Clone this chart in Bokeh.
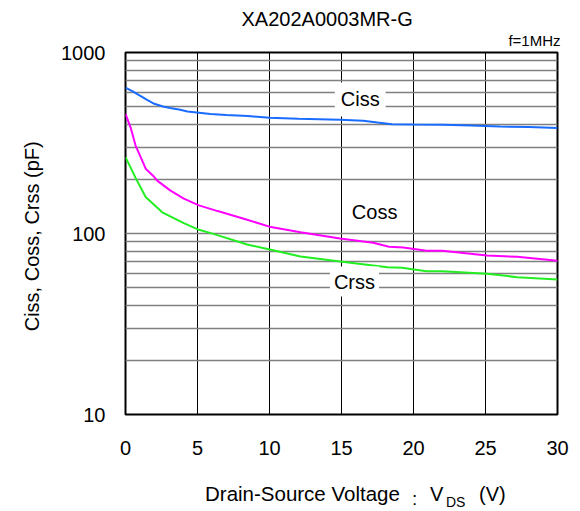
from bokeh.plotting import figure
from bokeh.models import FixedTicker, NumeralTickFormatter, Label, Title, Div
from bokeh.layouts import column
from bokeh.embed import file_html
from bokeh.resources import INLINE

# ---- data ----
title_text = "XA202A0003MR-G"
note_text = "f=1MHz"
xlabel_main = "Drain-Source Voltage"
xlabel_sep = ":"
xlabel_sym = "V"
xlabel_sub = "DS"
xlabel_unit = "(V)"
ylabel_text = "Ciss, Coss, Crss  (pF)"
x_ticks = [0, 5, 10, 15, 20, 25, 30]
y_ticks = [10, 100, 1000]
y_minor = [20, 30, 40, 50, 60, 70, 80, 90, 200, 300, 400, 500, 600, 700, 800, 900]

ciss_v = [0, 0.5, 1, 1.5, 2, 2.6, 3.1, 3.8, 4.3, 5.1, 5.9, 7, 8.5, 10, 12, 14.9, 16.5, 17.5, 18.5, 20, 22, 24, 26, 28, 30]
ciss_c = [640, 610, 578, 548, 521, 503, 494, 483, 472, 465, 458, 452, 446, 436, 430, 425, 420, 410, 402, 400, 399, 395, 390, 388, 383]

coss_v = [0, 0.35, 0.7, 1.16, 1.4, 2.0, 2.2, 3.1, 4.05, 5.1, 6.4, 8.45, 10.1, 12.15, 14.9, 17.2, 18.3, 19.3, 20.9, 22.0, 25.1, 27.2, 30]
coss_c = [458, 386, 306, 253, 228, 205, 196, 173, 156, 143, 133, 119, 108.5, 101.6, 93.8, 88.8, 84.4, 83.8, 80.2, 80.2, 75.6, 74.3, 70.6]

crss_v = [0, 0.35, 0.7, 1.4, 2.55, 4.05, 5.1, 6.1, 8.45, 10.1, 12.15, 14.9, 18.2, 19.2, 20.9, 22.0, 25.1, 27.2, 30]
crss_c = [264, 232, 203, 159, 131, 114, 104.8, 99.5, 86.9, 81.3, 74.6, 70, 65.1, 64.6, 61.9, 61.9, 59.9, 57.4, 55.7]

FONT = "Liberation Sans"

p = figure(width=580, height=470, x_range=(0, 30), y_range=(10, 1000),
           y_axis_type="log", output_backend="svg", toolbar_location=None,
           title=None,
           min_border_left=125, min_border_right=23, min_border_top=52,
           min_border_bottom=56, margin=0)

# titles above the frame: first added sits nearest the frame
p.add_layout(Title(text=note_text, align="right", offset=-3, vertical_align="top",
                   standoff=4, text_font=FONT, text_font_size="15px",
                   text_font_style="normal", text_color="black"), "above")
p.add_layout(Title(text=title_text, align="left", offset=116, vertical_align="bottom",
                   standoff=0, text_font=FONT, text_font_size="20px",
                   text_font_style="normal", text_color="black"), "above")

p.background_fill_color = "white"
p.border_fill_color = "white"
p.outline_line_color = "black"
p.outline_line_width = 2

# axes
p.xaxis.ticker = FixedTicker(ticks=x_ticks)
p.yaxis.ticker = FixedTicker(ticks=y_ticks, minor_ticks=y_minor)
p.yaxis.formatter = NumeralTickFormatter(format="0")
for ax in (p.xaxis[0], p.yaxis[0]):
    ax.axis_line_color = None
    ax.major_tick_line_color = None
    ax.minor_tick_line_color = None
    ax.major_label_text_font = FONT
    ax.major_label_text_font_size = "20px"
    ax.major_label_text_color = "black"
p.xaxis.major_label_standoff = 20
p.yaxis.major_label_standoff = 14
p.yaxis.axis_label = ylabel_text
p.yaxis.axis_label_text_font = FONT
p.yaxis.axis_label_text_font_size = "20px"
p.yaxis.axis_label_text_font_style = "normal"
p.yaxis.axis_label_text_color = "black"
p.yaxis.axis_label_standoff = 15

# grids
p.xgrid.ticker = FixedTicker(ticks=x_ticks)
p.xgrid.grid_line_color = "black"
p.xgrid.grid_line_width = 1
p.ygrid.grid_line_color = "#808080"
p.ygrid.grid_line_width = 1.5
p.ygrid.minor_grid_line_color = "#808080"
p.ygrid.minor_grid_line_width = 1.5

# curves
p.line(ciss_v, ciss_c, line_color="#1a6cff", line_width=2)
p.line(coss_v, coss_c, line_color="#ff00ff", line_width=2)
p.line(crss_v, crss_c, line_color="#22ee22", line_width=2)

# series labels with white boxes
for txt, xv, yv, pad in (("Ciss", 16.3, 550, 6), ("Coss", 17.3, 132, 6), ("Crss", 15.9, 54.3, 4)):
    p.add_layout(Label(x=xv, y=yv, text=txt, text_align="center",
                       text_baseline="middle", text_font=FONT, text_color="black",
                       text_font_size="20px", background_fill_color="white",
                       padding=pad))

# x-axis title with subscript, below the figure
span = ('<span style="position:absolute;left:{}px;top:{}px;font-size:{}px;'
        'line-height:{}px;white-space:nowrap;">{}</span>')
xlab_html = (
    '<div style="position:relative;width:580px;height:41px;'
    "font-family:'Liberation Sans',sans-serif;color:black;\">"
    + span.format(205, 13.6, 20.5, 20, xlabel_main)
    + span.format(412, 19, 19, 19, xlabel_sep)
    + span.format(430, 13.6, 20, 20, xlabel_sym)
    + span.format(446, 24.6, 14, 14, xlabel_sub)
    + span.format(479, 13.6, 20, 20, xlabel_unit)
    + '</div>'
)
xlab = Div(text=xlab_html, width=580, height=41, margin=0)

layout = column(p, xlab, spacing=0, margin=0)
open("out.html", "w").write(file_html(layout, INLINE))
